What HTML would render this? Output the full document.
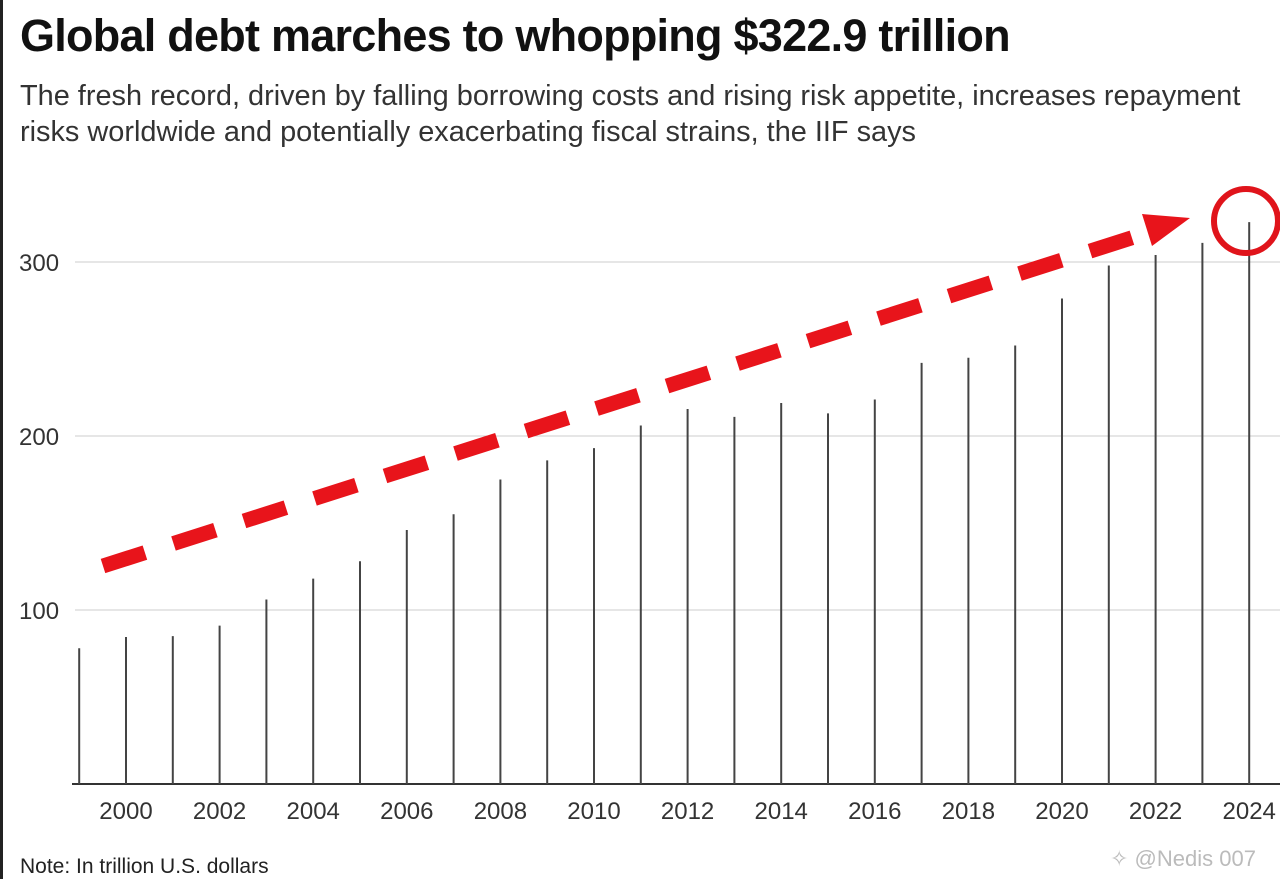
<!DOCTYPE html>
<html><head><meta charset="utf-8"><style>
body{margin:0;background:#fff;width:1280px;height:879px;overflow:hidden;font-family:"Liberation Sans",sans-serif;}
#title{position:absolute;left:20px;top:10px;font-size:45px;font-weight:bold;color:#111;letter-spacing:-0.75px;margin:0;white-space:nowrap}
#sub{position:absolute;left:20px;top:78px;font-size:28.9px;color:#333;line-height:36px;width:1250px;margin:0}
#note{position:absolute;left:20px;top:855px;font-size:21px;color:#222}
#wm{position:absolute;left:1110px;top:846px;font-size:22px;color:#bbb}
svg{position:absolute;left:0;top:0}
</style></head><body>
<div id="left-border" style="position:absolute;left:0;top:0;width:3px;height:879px;background:#222"></div>
<h1 id="title">Global debt marches to whopping $322.9 trillion</h1>
<p id="sub">The fresh record, driven by falling borrowing costs and rising risk appetite, increases repayment risks worldwide and potentially exacerbating fiscal strains, the IIF says</p>
<svg id="chart" width="1280" height="879"></svg>
<div id="note">Note: In trillion U.S. dollars</div>
<div id="wm">✧ @Nedis 007</div>
<script>
const years=[1999,2000,2001,2002,2003,2004,2005,2006,2007,2008,2009,2010,2011,2012,2013,2014,2015,2016,2017,2018,2019,2020,2021,2022,2023,2024];
const debt=[78,84.5,85,91,106,118,128,146,155,175,186,193,206,215.5,211,219,213,221,242,245,252,279,298,304,311,322.9];
const yTicks=[100,200,300];
const xTickYears=[2000,2002,2004,2006,2008,2010,2012,2014,2016,2018,2020,2022,2024];
const NS="http://www.w3.org/2000/svg";
const svg=document.getElementById('chart');
const x=v=>126+(v-2000)*46.8;
const y=v=>784-v*1.74;
function mk(t,a){const e=document.createElementNS(NS,t);for(const k in a)e.setAttribute(k,a[k]);svg.appendChild(e);return e;}
yTicks.forEach(t=>{
 const g=mk('line',{x1:75,x2:1280,y1:y(t),y2:y(t),stroke:'#ccc','stroke-width':1});
 
 
 const l=mk('text',{x:19,y:y(t)+9,'font-size':24,fill:'#333'});l.textContent=t;
 
 
});
const ax=mk('line',{x1:72,x2:1280,y1:784,y2:784,stroke:'#333','stroke-width':2});


years.forEach((yr,i)=>{
 const b=mk('line',{x1:x(yr),x2:x(yr),y1:784,y2:y(debt[i]),stroke:'#444','stroke-width':2});
 
 
});
xTickYears.forEach(yr=>{
 const t=mk('text',{x:x(yr),y:819,'font-size':24,fill:'#333','text-anchor':'middle'});t.textContent=yr;
 
 
});
const ar=mk('line',{x1:103,y1:566,x2:1150,y2:232,stroke:'#e8141b','stroke-width':15,'stroke-dasharray':'44,30'});


const hd=mk('polygon',{points:'1190,218 1142,214 1152,246',fill:'#e8141b'});


const c=mk('circle',{cx:1246,cy:221,r:32,fill:'none',stroke:'#e0141b','stroke-width':6});


</script>
</body></html>
